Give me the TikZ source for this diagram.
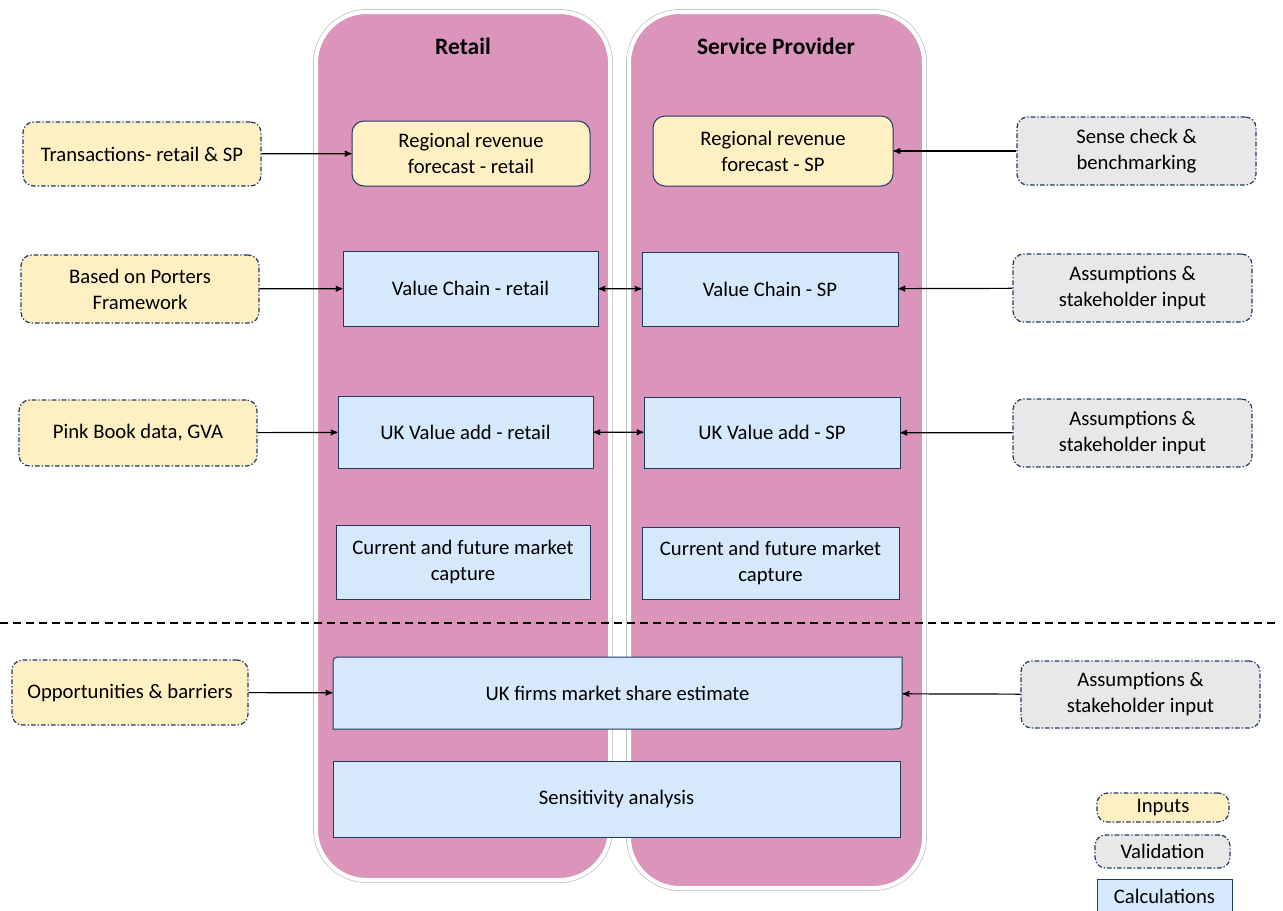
\documentclass[tikz,border=0pt]{standalone}
\usepackage{fontspec}
\setmainfont{Carlito}
\usepackage{tikz}
\usetikzlibrary{arrows,positioning}

\definecolor{colpink}{HTML}{DB95BA}
\definecolor{inyellow}{HTML}{FFF0C4}
\definecolor{chkgray}{HTML}{E8E8E8}
\definecolor{calcblue}{HTML}{D5E8FC}
\definecolor{navy}{HTML}{1F3864}

\tikzset{
    txt/.style     = {font=\fontsize{15.5}{19.5}\selectfont, align=center, inner sep=0pt},
    colwall/.style = {fill=colpink, draw=white, line width=3pt, rounded corners=38pt},
    coledge/.style = {draw=gray!45, line width=0.7pt, rounded corners=40pt},
    ttl/.style     = {font=\fontsize{17.6}{20}\selectfont\bfseries},
    inbox/.style   = {txt, draw=navy, line width=0.9pt, fill=inyellow, rounded corners=8pt,
                      dash pattern=on 3.5pt off 1.5pt on 1pt off 1.5pt},
    chkbox/.style  = {inbox, fill=chkgray},
    fcstbox/.style = {txt, draw=navy, line width=0.75pt, fill=inyellow, rounded corners=9pt},
    calcbox/.style = {txt, draw=navy, line width=0.75pt, fill=calcblue},
}

\begin{document}
\begin{tikzpicture}[x=0.75pt, y=-0.75pt, >=stealth', line width=0.9pt]
    \useasboundingbox (0,0) rectangle (1283,911);

    % Columns
    \draw [coledge] (313.5,9.5) rectangle (612.5,882.5);
    \draw [colwall] (316,12) rectangle (610,880);
    \draw [coledge] (626.5,9.5) rectangle (926.5,890.5);
    \draw [colwall] (629,12) rectangle (924,888);
    \node [ttl] (ttlRetail) at (463,46) {Retail};
    \node [ttl] (ttlSP)     at (776,46) {Service Provider};

    % Separator
    \draw [line width=1pt, dash pattern=on 6pt off 3.8pt] (0,623) -- (1280,623);

    % Nodes {in*, r*, s*, v*}
    \node [inbox]   (in1) at (142,154)    [minimum width=178.5pt, minimum height=48pt]    {Transactions- retail \& SP};
    \node [fcstbox] (r1)  at (471,153.5)  [minimum width=178.5pt, minimum height=48.75pt] {Regional revenue\\forecast - retail};
    \node [fcstbox] (s1)  at (773,151)    [minimum width=180pt,   minimum height=52.5pt]  {Regional revenue\\forecast - SP};
    \node [chkbox]  (v1)  at (1136.5,151) [minimum width=179.25pt, minimum height=51pt]   {Sense check \&\\benchmarking};

    \node [inbox]   (in2) at (140,289)    [minimum width=178.5pt, minimum height=51pt]    {Based on Porters\\Framework};
    \node [calcbox] (r2)  at (470.5,288.5) [minimum width=191.25pt, minimum height=56.25pt] {Value Chain - retail};
    \node [calcbox] (s2)  at (770,289)    [minimum width=192pt,   minimum height=55.5pt]  {Value Chain - SP};
    \node [chkbox]  (v2)  at (1132.5,288) [minimum width=179.25pt, minimum height=51pt]   {Assumptions \&\\stakeholder input};

    \node [inbox]   (in3) at (138,433)    [minimum width=178.5pt, minimum height=49.5pt]  {Pink Book data, GVA};
    \node [calcbox] (r3)  at (465.5,432)  [minimum width=191.25pt, minimum height=54pt]   {UK Value add - retail};
    \node [calcbox] (s3)  at (772,432.5)  [minimum width=192pt,   minimum height=53.25pt] {UK Value add - SP};
    \node [chkbox]  (v3)  at (1132.5,433) [minimum width=179.25pt, minimum height=51pt]   {Assumptions \&\\stakeholder input};

    \node [calcbox] (r4)  at (463,562)    [minimum width=190.5pt, minimum height=55.5pt]  {Current and future market\\capture};
    \node [calcbox] (s4)  at (770.5,563)  [minimum width=192.75pt, minimum height=54pt]   {Current and future market\\capture};

    % market share box, rounded on two corners only
    \filldraw [fill=calcblue, draw=navy, line width=0.75pt]
        (333,729) -- (333,667) .. controls (333,657) .. (343,657) -- (902,657)
        -- (902,719) .. controls (902,729) .. (892,729) -- cycle;
    \node [txt]     (uk)  at (617.5,693)  [minimum width=426.75pt, minimum height=54pt]   {UK firms market share estimate};
    \node [inbox]   (in4) at (130,692.5)  [minimum width=177pt,   minimum height=48.75pt] {Opportunities \& barriers};
    \node [chkbox]  (v4)  at (1140.5,694.5) [minimum width=179.25pt, minimum height=50.25pt] {Assumptions \&\\stakeholder input};

    \node [calcbox] (sens) at (616.5,799) [minimum width=425.25pt, minimum height=57pt]   {Sensitivity analysis};

    % Legend
    \node [inbox]   (lgIn)   at (1163,807.5)   [minimum width=99pt,    minimum height=21.75pt] {Inputs};
    \node [chkbox]  (lgChk)  at (1162.5,851.5) [minimum width=101.25pt, minimum height=24.75pt] {Validation};
    \node [calcbox] (lgCalc) at (1164.5,896)   [minimum width=101.25pt, minimum height=25.5pt] {Calculations};

    % Paths
    \path [->] (in1) edge (r1);
    \path [->] (v1)  edge (s1);
    \path [->] (in2) edge (r2);
    \path [<->] (r2) edge (s2);
    \path [->] (v2)  edge (s2);
    \path [->] (in3) edge (r3);
    \path [<->] (r3) edge (s3);
    \path [->] (v3)  edge (s3);
    \path [->] (in4) edge (uk);
    \path [->] (v4)  edge (uk);

\end{tikzpicture}
\end{document}
